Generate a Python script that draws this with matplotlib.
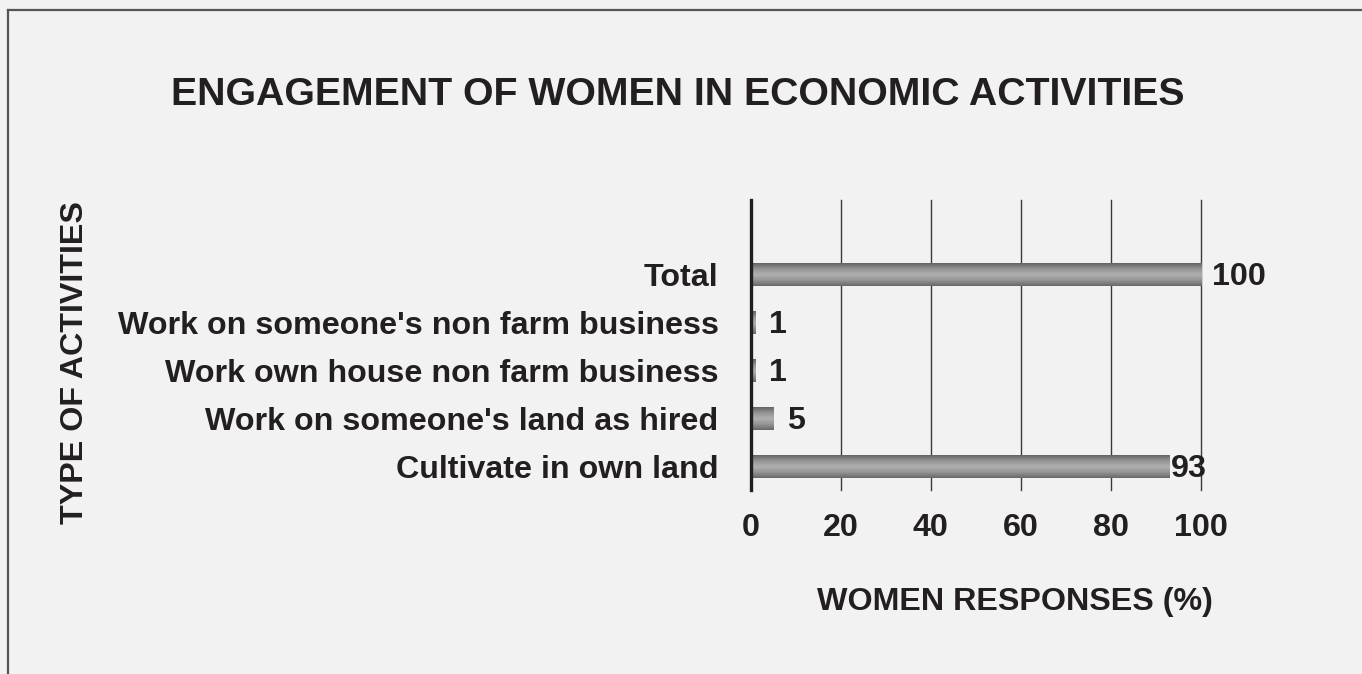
import matplotlib
matplotlib.use("Agg")
import matplotlib.pyplot as plt
import numpy as np
from matplotlib.colors import LinearSegmentedColormap

categories = ["Cultivate in own land", "Work on someone's land as hired",
              "Work own house non farm business", "Work on someone's non farm business",
              "Total"]
values = [93, 5, 1, 1, 100]
xticks = [0, 20, 40, 60, 80, 100]
title = "ENGAGEMENT OF WOMEN IN ECONOMIC ACTIVITIES"
xlabel = "WOMEN RESPONSES (%)"
ylabel = "TYPE OF ACTIVITIES"

plt.rcParams['font.family'] = ['Liberation Sans', 'DejaVu Sans']
plt.rcParams['font.weight'] = 'bold'

W, H = 1362, 674
FS = 23.2
TXT = '#231f20'
fig = plt.figure(figsize=(W / 100, H / 100), dpi=100)
fig.patch.set_facecolor('#f2f2f2')

# partial border (top and left)
fig.add_artist(plt.Line2D([8 / W, 8 / W], [0, 1 - 9.5 / H], transform=fig.transFigure,
                          color='#555555', lw=1.6))
fig.add_artist(plt.Line2D([8 / W, 1], [1 - 9.5 / H, 1 - 9.5 / H], transform=fig.transFigure,
                          color='#555555', lw=1.6))

left, right = 750.5 / W, 1201 / W
bottom, top = 1 - 490 / H, 1 - 200 / H
ax = fig.add_axes([left, bottom, right - left, top - bottom])
ax.set_facecolor('none')

y = np.arange(len(categories))
bh = 0.46
bars = ax.barh(y, values, height=bh, color='none', edgecolor='none', zorder=2)

cmap = LinearSegmentedColormap.from_list('g', ['#686868', '#959595', '#b0b0b0', '#959595', '#646464'])
grad = np.linspace(0, 1, 64).reshape(-1, 1)
for b in bars:
    x0, y0 = b.get_x(), b.get_y()
    w, h = b.get_width(), b.get_height()
    ax.imshow(grad, cmap=cmap, aspect='auto', extent=[x0, x0 + w, y0, y0 + h],
              origin='lower', zorder=2, interpolation='bicubic')

ax.set_xlim(0, 100)
ax.set_ylim(-0.48, len(categories) - 1 + 1.5625)
ax.set_xticks(xticks)
ax.set_xticklabels([str(t) for t in xticks], fontsize=FS, fontweight='bold', color=TXT)
ax.set_yticks(y)
ax.set_yticklabels(categories, fontsize=FS, fontweight='bold', color=TXT)
ax.tick_params(axis='x', length=0, pad=16.5)
ax.tick_params(axis='y', length=0, pad=23)
ax.grid(axis='x', color='#3a3a3a', lw=1.0, zorder=1)
for gl in ax.get_xgridlines():
    gl.set_clip_on(False)
for s in ['top', 'right', 'bottom']:
    ax.spines[s].set_visible(False)
ax.spines['left'].set_color(TXT)
ax.spines['left'].set_linewidth(2.4)
ax.spines['left'].set_zorder(3)

offsets = [1, 10, 10, 10, 8]
for yi, v, off in zip(y, values, offsets):
    ax.annotate(str(v), (v, yi), xytext=(off, -1.5), textcoords='offset points',
                ha='left', va='center', fontsize=FS, fontweight='bold', color=TXT,
                annotation_clip=False, zorder=4)

fig.text(677.5 / W, 1 - 95 / H, title, ha='center', va='center', fontsize=28.3,
         fontweight='bold', color=TXT)
fig.text(1015 / W, 1 - 602 / H, xlabel, ha='center', va='center', fontsize=FS,
         fontweight='bold', color=TXT)
fig.text(75 / W, 1 - 363 / H, ylabel, ha='center', va='center', rotation=90, fontsize=FS,
         fontweight='bold', color=TXT)

fig.savefig('out.png', dpi=100, facecolor=fig.get_facecolor())
